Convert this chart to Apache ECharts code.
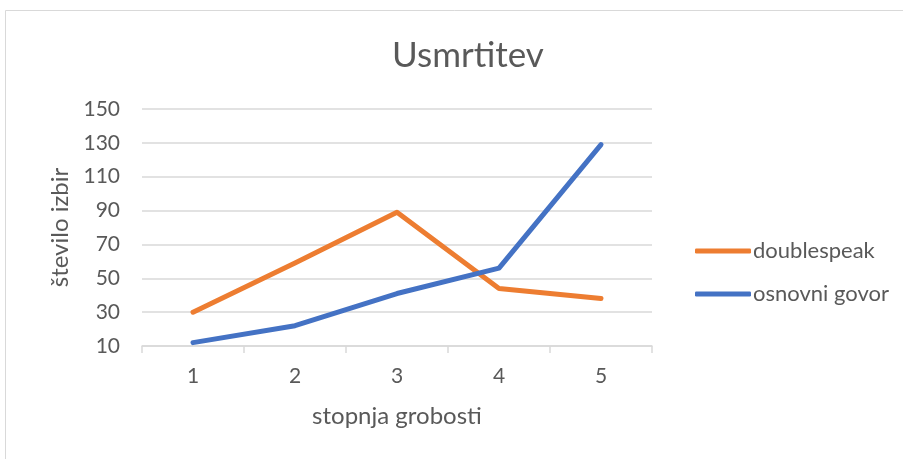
<!DOCTYPE html>
<html>
<head>
<meta charset="utf-8">
<script src="https://cdn.jsdelivr.net/npm/echarts@6/dist/echarts.min.js"></script>
<style>
html, body { margin: 0; padding: 0; background: #fff; }
#main { width: 903px; height: 459px; }
</style>
</head>
<body>
<div id="main"></div>
<script>
var categories = ['1', '2', '3', '4', '5'];
var doublespeak = [30, 59, 89, 44, 38];
var osnovniGovor = [12, 22, 41, 56, 129];
var yTicks = { min: 10, max: 150, interval: 20 };

var chart = echarts.init(document.getElementById('main'));
var font = 'Lato, "Open Sans", sans-serif';

var option = {
	backgroundColor: '#fff',
	graphic: [{
		type: 'rect',
		shape: { x: 5.5, y: 10.5, width: 910, height: 460 },
		style: { fill: 'none', stroke: '#d9d9d9', lineWidth: 1 },
		silent: true
	}],
	title: {
		text: 'Usmrtitev',
		left: 463,
		top: 33,
		textAlign: 'center',
		textStyle: { fontFamily: font, fontSize: 35, fontWeight: 'normal', color: '#595959' }
	},
	legend: {
		orient: 'vertical',
		left: 690,
		top: 235,
		itemWidth: 56,
		itemHeight: 5,
		itemGap: 21,
		icon: 'roundRect',
		textStyle: { fontFamily: font, fontSize: 22, color: '#595959', padding: [0, 0, 0, -3] },
		data: ['doublespeak', 'osnovni govor']
	},
	grid: { left: 142, right: 251, top: 109, bottom: 113 },
	xAxis: {
		type: 'category',
		data: categories,
		boundaryGap: true,
		name: 'stopnja grobosti',
		nameLocation: 'middle',
		nameGap: 58,
		nameTextStyle: { fontFamily: font, fontSize: 24, color: '#595959' },
		axisLine: { lineStyle: { color: '#d9d9d9', width: 1.5 } },
		axisTick: { show: true, length: 7, lineStyle: { color: '#d9d9d9', width: 1.5 } },
		axisLabel: { fontFamily: font, fontSize: 21, color: '#595959', margin: 20 }
	},
	yAxis: {
		type: 'value',
		min: yTicks.min,
		max: yTicks.max,
		interval: yTicks.interval,
		name: 'število izbir',
		nameLocation: 'middle',
		nameGap: 70,
		nameTextStyle: { fontFamily: font, fontSize: 24, color: '#595959' },
		axisLine: { show: false },
		axisTick: { show: false },
		axisLabel: { fontFamily: font, fontSize: 21, color: '#595959', margin: 22 },
		splitLine: { lineStyle: { color: '#d9d9d9', width: 1.5 } }
	},
	series: [{
		name: 'doublespeak',
		type: 'line',
		data: doublespeak,
		symbol: 'none',
		color: '#ED7D31',
		lineStyle: { width: 5, cap: 'round', join: 'round' }
	}, {
		name: 'osnovni govor',
		type: 'line',
		data: osnovniGovor,
		symbol: 'none',
		color: '#4472C4',
		lineStyle: { width: 5, cap: 'round', join: 'round' }
	}]
};

chart.setOption(option);
</script>
</body>
</html>
